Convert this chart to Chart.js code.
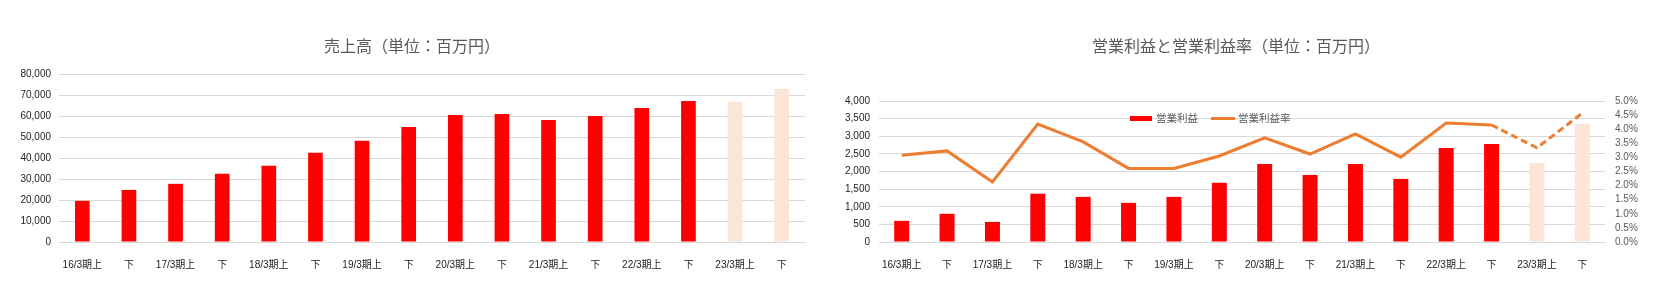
<!DOCTYPE html>
<html>
<head>
<meta charset="utf-8">
<script src="https://cdn.jsdelivr.net/npm/chart.js@4/dist/chart.umd.min.js"></script>
<style>
  html, body { margin: 0; padding: 0; background: #fff; }
  body { width: 1669px; height: 292px; position: relative; overflow: hidden; font-family: "Noto Sans CJK JP", sans-serif; }
  .wrap { position: absolute; top: 0; height: 292px; }
  .title { position: absolute; top: 34px; font-size: 16px; line-height: 22px; color: #595959; white-space: nowrap; transform: translateX(-50%); }
  .legend { position: absolute; top: 110px; left: 1130px; font-size: 10.5px; line-height: 16px; color: #595959; white-space: nowrap; display: flex; align-items: center; }
  .sw-bar { display: inline-block; width: 22px; height: 5px; background: #FF0000; margin-right: 4px; }
  .sw-line { display: inline-block; width: 24px; height: 3px; background: #ED7D31; margin-left: 13px; margin-right: 3px; }
</style>
</head>
<body>
<div class="wrap" style="left:0;width:834px;"><canvas id="c1" width="834" height="292"></canvas></div>
<div class="wrap" style="left:834px;width:835px;"><canvas id="c2" width="835" height="292"></canvas></div>
<div class="title" style="left:412px;">売上高（単位：百万円）</div>
<div class="title" style="left:1236px;">営業利益と営業利益率（単位：百万円）</div>
<div class="legend"><span class="sw-bar"></span>営業利益<span class="sw-line"></span>営業利益率</div>
<script>
// ---- data ----
const categories = ["16/3期上","下","17/3期上","下","18/3期上","下","19/3期上","下","20/3期上","下","21/3期上","下","22/3期上","下","23/3期上","下"];
const sales = [19600, 24800, 27700, 32500, 36300, 42500, 48200, 54800, 60500, 61000, 58100, 60000, 63800, 67200, 66700, 72900];
const operatingProfit = [600, 800, 570, 1370, 1280, 1110, 1280, 1680, 2210, 1900, 2210, 1790, 2670, 2780, 2240, 3350];
const operatingMargin = [3.08, 3.23, 2.13, 4.18, 3.55, 2.61, 2.61, 3.05, 3.69, 3.12, 3.83, 3.01, 4.22, 4.15, 3.34, 4.57];
const salesTicks = { max: 80000, step: 10000 };
const profitTicks = { max: 4000, step: 500 };
const marginTicks = { max: 5, step: 0.5 };
const firstForecastIndex = 14;

// ---- styles ----
const RED = '#FF0000', LIGHT = '#FBE5D6', ORANGE = '#ED7D31', GRID = '#D9D9D9';
const tickFont = { family: '"Liberation Sans", "Noto Sans CJK JP", sans-serif', size: 10 };
const barColor = ctx => ctx.dataIndex >= firstForecastIndex ? LIGHT : RED;
const fmt = v => Number(v).toLocaleString('en-US');

Chart.defaults.animation = false;
Chart.defaults.responsive = false;

new Chart(document.getElementById('c1'), {
  type: 'bar',
  data: {
    labels: categories,
    datasets: [{ data: sales, backgroundColor: barColor, categoryPercentage: 1, barPercentage: 0.315 }]
  },
  options: {
    layout: { padding: { top: 74, left: 9, right: 29, bottom: 20 } },
    plugins: { legend: { display: false }, title: { display: false }, tooltip: { enabled: false } },
    scales: {
      x: {
        grid: { display: false },
        border: { display: true, color: GRID, width: 1 },
        ticks: { color: '#222', font: tickFont, padding: 9, maxRotation: 0, autoSkip: false },
        afterFit: s => { s.height = 30; }
      },
      y: {
        min: 0, max: salesTicks.max,
        grid: { color: GRID, drawTicks: false },
        border: { display: false },
        ticks: { stepSize: salesTicks.step, autoSkip: false, color: '#222', font: tickFont, padding: 8, callback: v => fmt(v) },
        afterFit: s => { s.width = 50; }
      }
    }
  }
});

new Chart(document.getElementById('c2'), {
  type: 'bar',
  data: {
    labels: categories,
    datasets: [
      {
        type: 'line', label: '営業利益率', data: operatingMargin, yAxisID: 'y1', order: 0,
        borderColor: ORANGE, borderWidth: 3, pointRadius: 0, tension: 0, fill: false,
        segment: { borderDash: ctx => ctx.p0DataIndex >= firstForecastIndex - 1 ? [7, 4] : undefined }
      },
      { type: 'bar', label: '営業利益', data: operatingProfit, yAxisID: 'y', order: 1,
        backgroundColor: barColor, categoryPercentage: 1, barPercentage: 0.33 }
    ]
  },
  options: {
    layout: { padding: { top: 101, left: 5, right: 24, bottom: 20 } },
    plugins: { legend: { display: false }, title: { display: false }, tooltip: { enabled: false } },
    scales: {
      x: {
        grid: { display: false },
        border: { display: true, color: GRID, width: 1 },
        ticks: { color: '#222', font: tickFont, padding: 9, maxRotation: 0, autoSkip: false },
        afterFit: s => { s.height = 30; }
      },
      y: {
        position: 'left', min: 0, max: profitTicks.max,
        grid: { color: GRID, drawTicks: false },
        border: { display: false },
        ticks: { stepSize: profitTicks.step, autoSkip: false, color: '#222', font: tickFont, padding: 9, callback: v => fmt(v) },
        afterFit: s => { s.width = 40; }
      },
      y1: {
        position: 'right', min: 0, max: marginTicks.max,
        grid: { display: false, drawTicks: false },
        border: { display: false },
        ticks: { stepSize: marginTicks.step, autoSkip: false, color: '#595959', font: tickFont, padding: 10, callback: v => Number(v).toFixed(1) + '%' },
        afterFit: s => { s.width = 40; }
      }
    }
  }
});
</script>
</body>
</html>
